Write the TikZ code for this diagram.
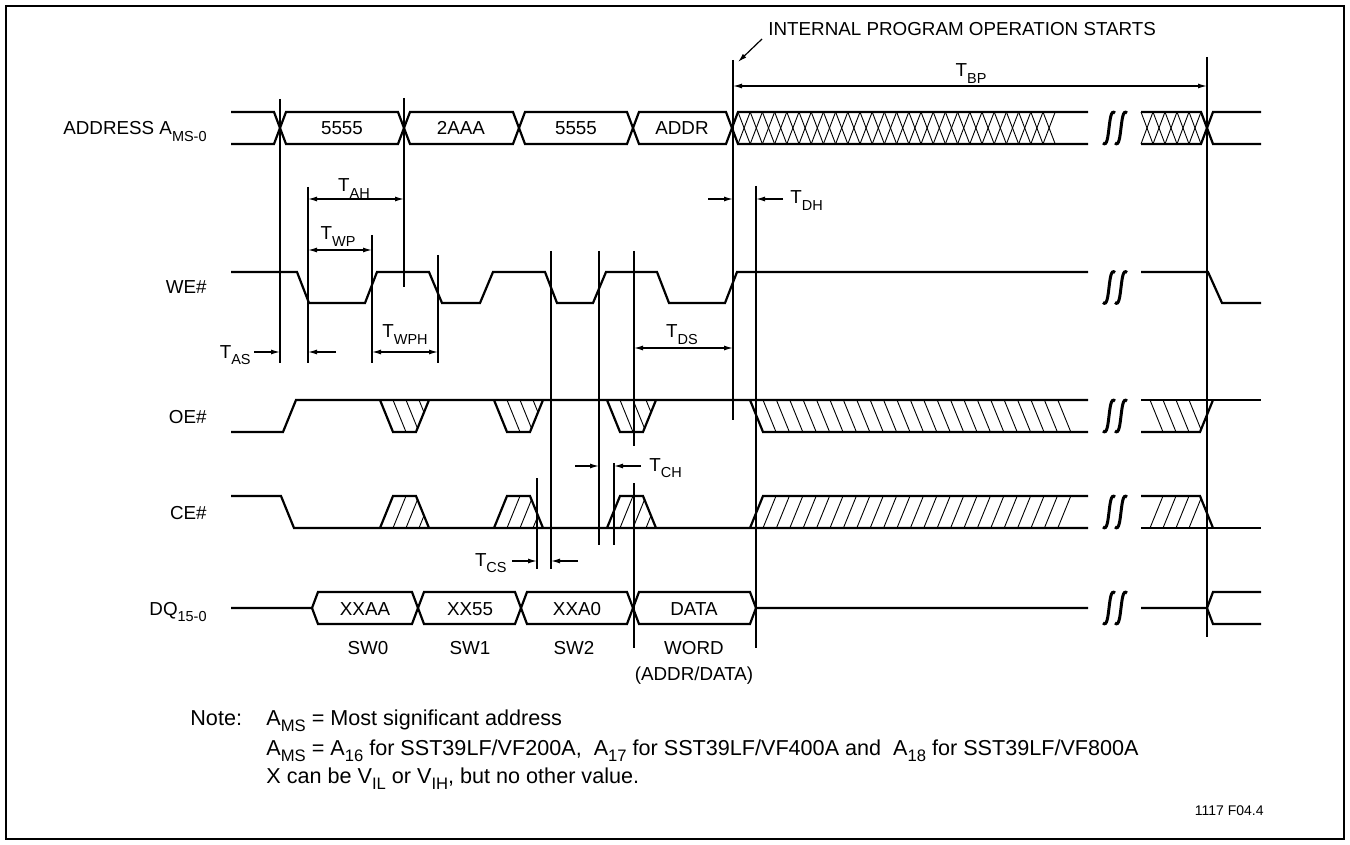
\documentclass[tikz,border=0pt]{standalone}
\usepackage{fontspec}
\setmainfont{Liberation Sans}
\usetikzlibrary{arrows.meta}
\newcommand\lowtxt[1]{\raisebox{-0.32em}{\scalebox{0.77}{#1}}}
\tikzset{
  sig/.style={line width=1.1pt},
  tline/.style={line width=0.6pt},
  hatch/.style={line width=0.45pt},
  dim/.style={line width=0.6pt, {Latex[length=4.5pt,width=2.5pt]}-{Latex[length=4.5pt,width=2.5pt]}},
  arr/.style={line width=0.6pt, -{Latex[length=4.5pt,width=2.5pt]}},
  lbl/.style={inner sep=0pt, font=\fontsize{9.4}{11}\selectfont},
  notetxt/.style={inner sep=0pt, font=\fontsize{10.8}{13}\selectfont},
  brk/.pic={\foreach \d in {-6,6}
    \draw[line width=1.5pt] (\d-6,15) .. controls (\d-2,19) and (\d-1,8) .. (\d,0)
      .. controls (\d+1,-8) and (\d+2,-19) .. (\d+6,-15);},
}
\begin{document}
\begin{tikzpicture}[x=0.5pt, y=-0.5pt]
  \useasboundingbox (0,0) rectangle (1350,845);
  \draw[line width=1pt] (6,6) rectangle (1344,839);

  \node[lbl, anchor=base east] (addr) at (207,135) {ADDRESS A\lowtxt{MS-0}};
  \node[lbl, anchor=base east] (we) at (207,294) {WE\#};
  \node[lbl, anchor=base east] (oe) at (207,423) {OE\#};
  \node[lbl, anchor=base east] (ce) at (207,519) {CE\#};
  \node[lbl, anchor=base east] (dq) at (207,615) {DQ\lowtxt{15-0}};

  \draw[sig] (231,112) -- (274,112) -- (286,144) -- (398,144) -- (410,112) -- (513,112) -- (525,144)
    -- (627,144) -- (639,112) -- (726,112) -- (738,144) -- (1088,144);
  \draw[sig] (231,144) -- (274,144) -- (286,112) -- (398,112) -- (410,144) -- (513,144) -- (525,112)
    -- (627,112) -- (639,144) -- (726,144) -- (738,112) -- (1088,112);
  \draw[sig] (1141,112) -- (1201,112) -- (1213,144) -- (1261,144);
  \draw[sig] (1141,144) -- (1201,144) -- (1213,112) -- (1261,112);
  \foreach \k in {0,...,25} {
    \draw[hatch] (738+12.2*\k,112) -- (750.2+12.2*\k,144);
    \draw[hatch] (750.2+12.2*\k,112) -- (738+12.2*\k,144);
  }
  \foreach \k in {0,...,4} {
    \draw[hatch] (1141+12*\k,112) -- (1153+12*\k,144);
    \draw[hatch] (1153+12*\k,112) -- (1141+12*\k,144);
  }
  \node[lbl, anchor=base] (a1) at (342,135) {5555};
  \node[lbl, anchor=base] (a2) at (461,135) {2AAA};
  \node[lbl, anchor=base] (a3) at (576,135) {5555};
  \node[lbl, anchor=base] (a4) at (682,135) {ADDR};

  \draw[sig] (231,272) -- (297,272) -- (309,303) -- (365,303) -- (377,272) -- (429,272) -- (442,303)
    -- (480,303) -- (493,272) -- (545,272) -- (557,303) -- (593,303) -- (606,272) -- (657,272)
    -- (669,303) -- (725,303) -- (737,272) -- (1088,272);
  \draw[sig] (1141,272) -- (1208,272) -- (1222,303) -- (1261,303);

  \draw[sig] (231,432) -- (283,432) -- (296,400) -- (1088,400);
  \draw[sig] (750,400) -- (763,432) -- (1088,432);
  \foreach \k in {0,...,22}
    \draw[hatch] (763+13.4*\k,400) -- (776+13.4*\k,432);
  \draw[sig] (1141,400) -- (1261,400);
  \draw[sig] (1141,432) -- (1200,432) -- (1213,400);
  \begin{scope}
    \clip (1141,400) -- (1213,400) -- (1200,432) -- (1141,432) -- cycle;
    \foreach \k in {0,...,3} \draw[hatch] (1150+13*\k,400) -- (1163+13*\k,432);
  \end{scope}

  \draw[sig] (231,496) -- (281,496) -- (294,528) -- (1088,528);
  \draw[sig] (750,528) -- (763,496) -- (1088,496);
  \foreach \k in {0,...,22}
    \draw[hatch] (763+13.4*\k,528) -- (776+13.4*\k,496);
  \draw[sig] (1141,528) -- (1261,528);
  \draw[sig] (1141,496) -- (1200,496) -- (1213,528);
  \begin{scope}
    \clip (1141,496) -- (1200,496) -- (1213,528) -- (1141,528) -- cycle;
    \foreach \k in {0,...,3} \draw[hatch] (1150+13*\k,528) -- (1163+13*\k,496);
  \end{scope}

  \foreach \a in {380,494,607} {
    \draw[sig] (\a,400) -- (\a+13,432) -- (\a+36,432) -- (\a+49,400);
    \begin{scope}
      \clip (\a,400) -- (\a+13,432) -- (\a+36,432) -- (\a+49,400) -- cycle;
      \foreach \k in {1,2,3} \draw[hatch] (\a+13*\k,400) -- (\a+13+13*\k,432);
    \end{scope}
    \draw[sig] (\a,528) -- (\a+13,496) -- (\a+36,496) -- (\a+49,528);
    \begin{scope}
      \clip (\a,528) -- (\a+13,496) -- (\a+36,496) -- (\a+49,528) -- cycle;
      \foreach \k in {1,2,3} \draw[hatch] (\a+13*\k,528) -- (\a+13+13*\k,496);
    \end{scope}
  }

  \draw[sig] (231,608) -- (312,608) -- (318,592) -- (412,592) -- (424,624) -- (515,624) -- (527,592)
    -- (627,592) -- (639,624) -- (750,624) -- (756,608) -- (1088,608);
  \draw[sig] (312,608) -- (318,624) -- (412,624) -- (424,592) -- (515,592) -- (527,624)
    -- (627,624) -- (639,592) -- (750,592) -- (756,608);
  \draw[sig] (1141,608) -- (1207,608) -- (1213,592) -- (1261,592);
  \draw[sig] (1207,608) -- (1213,624) -- (1261,624);
  \node[lbl, anchor=base] (d1) at (365,615) {XXAA};
  \node[lbl, anchor=base] (d2) at (470,615) {XX55};
  \node[lbl, anchor=base] (d3) at (577,615) {XXA0};
  \node[lbl, anchor=base] (d4) at (694,615) {DATA};
  \node[lbl, anchor=base] (sw0) at (368,654) {SW0};
  \node[lbl, anchor=base] (sw1) at (470,654) {SW1};
  \node[lbl, anchor=base] (sw2) at (574,654) {SW2};
  \node[lbl, anchor=base] (word) at (694,654) {WORD};
  \node[lbl, anchor=base] (wordsub) at (694,680) {(ADDR/DATA)};

  \foreach \y in {128,287.5,416,512,608}
    \pic at (1115,\y) {brk};

  \draw[tline] (280,99) -- (280,363);
  \draw[tline] (404,98) -- (404,287);
  \draw[tline] (308,187) -- (308,363);
  \draw[tline] (372,235) -- (372,363);
  \draw[tline] (438,255) -- (438,363);
  \draw[tline] (537,478) -- (537,569);
  \draw[tline] (551,251) -- (551,569);
  \draw[tline] (599,251) -- (599,545);
  \draw[tline] (614,463) -- (614,545);
  \draw[tline] (634,251) -- (634,446);
  \draw[tline] (634,483) -- (634,648);
  \draw[tline] (733,60) -- (733,420);
  \draw[tline] (756,186) -- (756,648);
  \draw[tline] (1207,57) -- (1207,637);

  \draw[dim] (733,86) -- (1207,86);
  \node[lbl, anchor=base] (tbp) at (971,77) {T\lowtxt{BP}};
  \draw[dim] (308,199) -- (404,199);
  \node[lbl, anchor=base] (tah) at (354,192) {T\lowtxt{AH}};
  \draw[dim] (308,250) -- (372,250);
  \node[lbl, anchor=base] (twp) at (338,240) {T\lowtxt{WP}};
  \draw[dim] (372,352) -- (438,352);
  \node[lbl, anchor=base] (twph) at (405,338) {T\lowtxt{WPH}};
  \draw[dim] (634,348) -- (733,348);
  \node[lbl, anchor=base] (tds) at (682,338) {T\lowtxt{DS}};
  \draw[arr] (254,352) -- (280,352);
  \draw[arr] (336,352) -- (308,352);
  \node[lbl, anchor=base east] (tas) at (251,358) {T\lowtxt{AS}};
  \draw[arr] (708,199) -- (733,199);
  \draw[arr] (783,199) -- (756,199);
  \node[lbl, anchor=base west] (tdh) at (790,204) {T\lowtxt{DH}};
  \draw[arr] (575,466) -- (599,466);
  \draw[arr] (641,466) -- (614,466);
  \node[lbl, anchor=base west] (tch) at (649,471) {T\lowtxt{CH}};
  \draw[arr] (512,561) -- (537,561);
  \draw[arr] (578,561) -- (551,561);
  \node[lbl, anchor=base east] (tcs) at (507,566) {T\lowtxt{CS}};

  \node[lbl, anchor=base west] (start) at (768,36) {INTERNAL PROGRAM OPERATION STARTS};
  \draw[arr] (762,39) -- (738,62);

  \node[notetxt, anchor=base west] (note) at (190,725) {Note:};
  \node[notetxt, anchor=base west] (n1) at (266,725) {A\lowtxt{MS} = Most significant address};
  \node[notetxt, anchor=base west] (n2) at (266,755) {A\lowtxt{MS} = A\lowtxt{16} for SST39LF/VF200A,\ \ A\lowtxt{17} for SST39LF/VF400A and\ \ A\lowtxt{18} for SST39LF/VF800A};
  \node[notetxt, anchor=base west] (n3) at (266,783) {X can be V\lowtxt{IL} or V\lowtxt{IH}, but no other value.};
  \node[inner sep=0pt, anchor=base east, font=\fontsize{7}{8}\selectfont] (fig) at (1264,815) {1117 F04.4};
\end{tikzpicture}
\end{document}
